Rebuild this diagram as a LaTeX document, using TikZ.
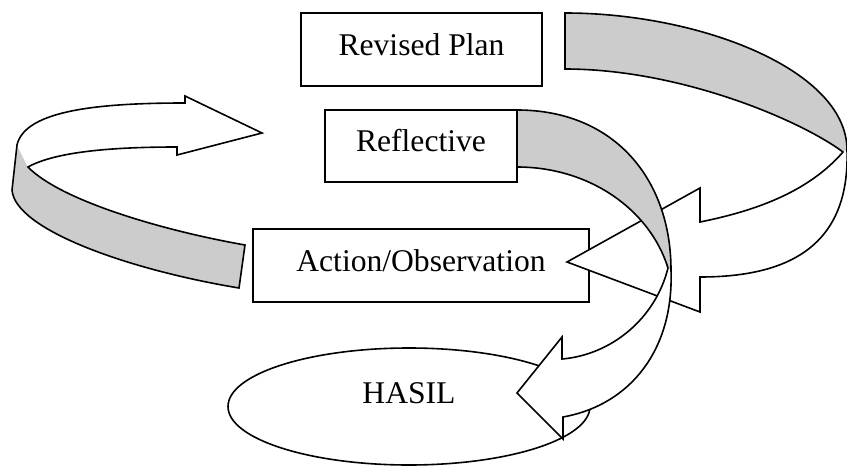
\documentclass[tikz,border=0pt]{standalone}
\usepackage{fontspec}
\setmainfont{Liberation Serif}
\usetikzlibrary{shapes.geometric}
\definecolor{ribbon}{RGB}{204,204,204}
\begin{document}
\begin{tikzpicture}[x=1pt,y=-1pt,
  outline/.style={draw=black,line width=1.6pt,line join=miter},
  frontface/.style={fill=ribbon},
  backface/.style={fill=white},
  boxnode/.style={draw=black,line width=1.6pt,rectangle,fill=white,inner sep=0pt,
    text height=22pt,text depth=11pt,font=\fontsize{31.6}{37}\selectfont},
  ovalnode/.style={draw=black,line width=1.6pt,ellipse,fill=white,inner sep=0pt,
    text height=22pt,text depth=29pt,font=\fontsize{31.6}{37}\selectfont}]
\useasboundingbox (0,0) rectangle (847,466);

% left ribbon arrow
\fill[frontface] (17,145) -- (12,190) .. controls (15,230) and (130,270) .. (239,288)
  -- (245,245) .. controls (160,230) and (60,200) .. (28,167) -- cycle;
\fill[backface] (17,145) .. controls (25,110) and (100,103) .. (185,103) -- (185,96)
  -- (262,133) -- (177,155) -- (177,147) .. controls (110,147) and (55,152) .. (28,167) -- cycle;
\draw[outline] (28,167) .. controls (60,200) and (160,230) .. (245,245) -- (239,288)
  .. controls (130,270) and (15,230) .. (12,190) -- (17,145)
  .. controls (25,110) and (100,103) .. (185,103) -- (185,96) -- (262,133) -- (177,155)
  -- (177,147) .. controls (110,147) and (55,152) .. (28,167) -- cycle;

% boxes
\node[boxnode,minimum width=241pt,minimum height=73pt] (plan) at (421.5,49.5) {Revised Plan};
\node[boxnode,minimum width=192pt,minimum height=72pt] (refl) at (421,146) {Reflective};
\node[boxnode,minimum width=336pt,minimum height=73pt] (act) at (421,265.5) {Action/Observation};
\node[ovalnode,minimum width=362pt,minimum height=117pt] (hasil) at (409,406.5) {HASIL};

% big right ribbon arrow
\fill[frontface] (565,13) .. controls (700,13) and (847,70) .. (847,150) -- (843,152)
  .. controls (800,120) and (680,69) .. (565,69) -- cycle;
\fill[backface] (847,150) .. controls (850,245) and (790,277) .. (700,277) -- (700,312)
  -- (567,262) -- (700,188) -- (700,222) .. controls (760,210) and (810,190) .. (843,152) -- cycle;
\draw[outline] (565,13) .. controls (700,13) and (847,70) .. (847,150)
  .. controls (850,245) and (790,277) .. (700,277) -- (700,312) -- (567,262) -- (700,188)
  -- (700,222) .. controls (760,210) and (810,190) .. (843,152)
  .. controls (800,120) and (680,69) .. (565,69) -- cycle;

% ribbon arrow from Reflective down to HASIL
\fill[frontface] (517,110) .. controls (615,110) and (671,180) .. (671,270) -- (668,268)
  .. controls (650,210) and (590,167) .. (517,167) -- cycle;
\fill[backface] (671,270) .. controls (674,350) and (630,405) .. (563,417) -- (563,439)
  -- (517,393) -- (562,337) -- (562,359) .. controls (610,355) and (655,320) .. (668,268) -- cycle;
\draw[outline] (517,110) .. controls (615,110) and (671,180) .. (671,270)
  .. controls (674,350) and (630,405) .. (563,417) -- (563,439) -- (517,393) -- (562,337)
  -- (562,359) .. controls (610,355) and (655,320) .. (668,268)
  .. controls (650,210) and (590,167) .. (517,167) -- cycle;
\end{tikzpicture}
\end{document}
